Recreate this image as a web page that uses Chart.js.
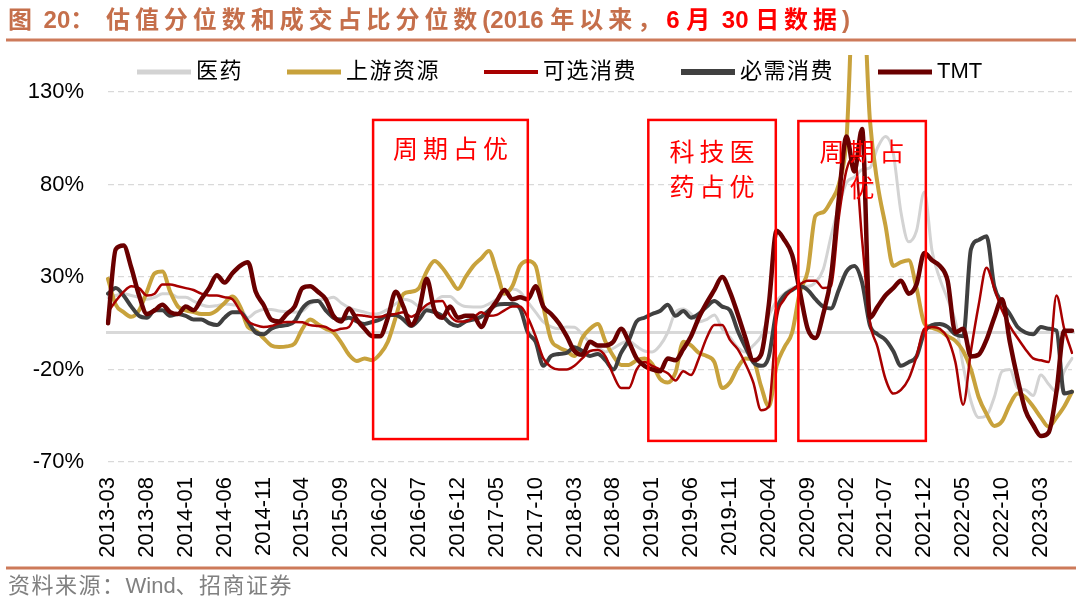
<!DOCTYPE html>
<html><head><meta charset="utf-8">
<script src="https://cdn.jsdelivr.net/npm/chart.js@4.4.0/dist/chart.umd.min.js"></script>
<style>html,body{margin:0;padding:0;background:#fff;}canvas{display:block;}</style>
</head><body>
<canvas id="c" width="1080" height="602"></canvas>
<script>
const months = [
'2013-03','2013-04','2013-05','2013-06','2013-07','2013-08','2013-09','2013-10','2013-11','2013-12',
'2014-01','2014-02','2014-03','2014-04','2014-05','2014-06','2014-07','2014-08','2014-09','2014-10','2014-11','2014-12',
'2015-01','2015-02','2015-03','2015-04','2015-05','2015-06','2015-07','2015-08','2015-09','2015-10','2015-11','2015-12',
'2016-01','2016-02','2016-03','2016-04','2016-05','2016-06','2016-07','2016-08','2016-09','2016-10','2016-11','2016-12',
'2017-01','2017-02','2017-03','2017-04','2017-05','2017-06','2017-07','2017-08','2017-09','2017-10','2017-11','2017-12',
'2018-01','2018-02','2018-03','2018-04','2018-05','2018-06','2018-07','2018-08','2018-09','2018-10','2018-11','2018-12',
'2019-01','2019-02','2019-03','2019-04','2019-05','2019-06','2019-07','2019-08','2019-09','2019-10','2019-11','2019-12',
'2020-01','2020-02','2020-03','2020-04','2020-05','2020-06','2020-07','2020-08','2020-09','2020-10','2020-11','2020-12',
'2021-01','2021-02','2021-03','2021-04','2021-05','2021-06','2021-07','2021-08','2021-09','2021-10','2021-11','2021-12',
'2022-01','2022-02','2022-03','2022-04','2022-05','2022-06','2022-07','2022-08','2022-09','2022-10','2022-11','2022-12',
'2023-01','2023-02','2023-03','2023-04','2023-05','2023-06','2023-07'];

const xTickLabels = ['2013-03','2013-08','2014-01','2014-06','2014-11','2015-04','2015-09','2016-02','2016-07','2016-12',
'2017-05','2017-10','2018-03','2018-08','2019-01','2019-06','2019-11','2020-04','2020-09','2021-02','2021-07','2021-12',
'2022-05','2022-10','2023-03'];
const yTicks = [-70, -20, 30, 80, 130];

const seriesNames = ['医药', '上游资源', '可选消费', '必需消费', 'TMT'];

const yiyao = [19,20,21,20,19,18,19,21,21,19, 19,17,15,14,14.5,15.4,15,13.8,8,11, 12.5,12.5,11.6,11.3,11,11.6,15.5,17.5,18,19,
16,13.5,12,11,10,10.5,12.5,15.5,18,17, 14,13.5,16.5,19.5,19.5,16,14,13.8,13.8,15.5, 18,21,23.5,22,16.5,11,5.7,3,2,3,
2.8,-1,-5.5,-8,-10.5,-8.5,-6,-4.6,-7.5,-10, -10.5,-7,0,11,12.7,10,5.7,7,9.5,2, -2.6,-8,-10.5,-7,-2,9,17,21,24,25,
25,27,34,52,68,81,84,88,89,100, 106,97,65,49,55,76,44,29,18,6, -18,-37,-46,-45,-35,-21,-20,-30,-31,-34, -23,-28,-32,-21,-14];

const shangyou = [29,15,11,8.5,12,22,32,33,22,14, 12,11,10,10,12,16,19.5,14,3,1, -3,-7,-7.8,-7.5,-6,2,7,4.5,2,0,
-5.5,-12,-15.4,-14,-15,-11.6,-5,8,20.8,22, 24,33,38.6,35,29,23.5,30,36,40,44, 33,21,25,36,38.6,36,14,-4,-8,-10,
-12.7,-3,2,4.6,-5,-12.7,-17.5,-17.5,-15,-14, -17,-25,-27,-21.6,-5,-7,-11,-12.7,-16,-30, -27,-19,-14,-15,-29,-40,-18,-8,0,22,
33,63,65,71,80,105,190,190,115,80, 58,36,38,39,24,5,2.5,1,-2,-4.5, -10,-20,-35,-44,-50.5,-48,-39,-33,-35,-40, -46,-51,-46,-40,-32];

const kexuan = [11,17,22,25,24,20,21,26,26,25, 24,23,21,20,20,19,18,11.6,6,4, 3,3.5,5,5.7,5.7,5.5,4,3.5,3,1,
2,3,9.5,9,8.4,8.5,9.5,10,11,8.5, 11,15,16.8,17,9,6,6,8,11,9, 9.5,12,14,14,8,-2,-14,-18.6,-20,-20,
-18,-14,-10,-9.5,-13,-23,-30,-30,-20,-16, -18,-20,-22,-26,-21,-23,-14,-3,4,4, -4,-9,-17,-27,-42,-40,7,18,23,26,
28,28,24,25,62,88,95,50,6,-8, -25,-33,-31,-25,-13,2,3,2,-3,-16, -39,-10,15,35,24,12,3.5,-3,-9,-14, -15,-16,20,2,-11];

const bixu = [21,24,20,14,9,8,12,12,9,10, 9,7,7,5,4,8,11,11,6,0, -1,2,3.5,4,6,13,16.5,17,12,8,
7,8,6,4.6,5.7,7,9.5,9.5,7,3.5, 7,12,11,9,5,3.5,6,7,8.5,12, 15,15.4,15.4,13,0,-5,-18,-12.7,-11.6,-11,
-8,-10,-12.7,-11.6,-15,-20,-11,-4,6,8, 10,11.6,15,9,11.6,8,10,14,17,14, 12,1,-8,-16,-18,-13,12,20,23,25,
23,18,14,13,23,33,36,27,4,-1, -4,-10,-18,-16,-13,0,4,4.6,3,-1, -2,45,50,52,25,16,10,3,0,-1, 3,2,1,-33,-32];

const tmt = [5,45,47,35,20,10,12,15,11,10, 14,12,18,24,31,27,32,36,38,22, 15,7,6,10,14,24,25,22,18,9,
6,13,7,2,-2,-2,8,22,14,4, 12,29,12,8,14,8,9,9,3,11, 17,23,18,19,18,25,14,10,5,-2,
-10,-12,-5,-7,-7,-5,2,-5,-14,-18, -20,-21,-14,-15,-9,-2,8,16,23,30, 22,10,-3,-15,-12,15,55,50,42,22,
2,-3,10,30,72,106,87,110,8,14, 20,24,28,21,26,43,39,36,28,0, 2,-13,-12,-4,8,18,-5,-25,-42,-50, -56,-54,-32,1,1];

const seriesColors = ['#D3D3D3', '#C8A23C', '#A80000', '#404040', '#6A0000'];
const seriesWidths = [3, 4, 2.5, 4, 4.5];
const legendWidths = [5, 5, 4, 6, 5];
const seriesOrder = [5, 4, 2, 3, 1];

// annotation boxes in data units (category index, percent)
const boxes = [
  {x0: 34.1, x1: 54.0, y0: 114.9, y1: -57.6, lines: [{t: '周期占优', dy: 29}]},
  {x0: 69.5, x1: 85.9, y0: 114.9, y1: -58.6, lines: [{t: '科技医', dy: 32}, {t: '药占优', dy: 67}]},
  {x0: 88.8, x1: 105.2, y0: 114.3, y1: -58.6, lines: [{t: '周期占', dy: 30}, {t: '优', dy: 66}]}
];

const FONT = '"Liberation Sans", "Noto Sans CJK SC", sans-serif';
const isWide = ch => ch.charCodeAt(0) > 0x2E80;

function drawSpaced(ctx, text, x, y, sp, wideOnly) {
  for (const ch of text) {
    ctx.fillText(ch, x, y);
    x += ctx.measureText(ch).width + ((!wideOnly || isWide(ch)) ? sp : 0);
  }
  return x;
}
function spacedWidth(ctx, text, sp) {
  let w = 0; for (const ch of text) w += ctx.measureText(ch).width + sp; return w - sp;
}

const deco = {
  id: 'deco',
  beforeDatasetsDraw(chart) {
    const {ctx, chartArea: a, scales: {y}} = chart;
    const y0 = y.getPixelForValue(0);
    ctx.save();
    ctx.strokeStyle = '#D9D9D9'; ctx.lineWidth = 3;
    ctx.beginPath(); ctx.moveTo(a.left - 2, y0); ctx.lineTo(a.right + 3, y0); ctx.stroke();
    ctx.restore();
  },
  afterDraw(chart) {
    const {ctx, scales: {x, y}} = chart;
    ctx.save();
    // annotation boxes
    boxes.forEach(b => {
      const l = x.getPixelForValue(b.x0), r = x.getPixelForValue(b.x1);
      const t = y.getPixelForValue(b.y0), bt = y.getPixelForValue(b.y1);
      ctx.strokeStyle = '#FF0000'; ctx.lineWidth = 2.5;
      ctx.strokeRect(l, t, r - l, bt - t);
      ctx.fillStyle = '#FF0000';
      ctx.font = '25px "Noto Sans CJK SC", sans-serif';
      ctx.textBaseline = 'middle'; ctx.textAlign = 'left';
      const cx = (l + r) / 2;
      b.lines.forEach(ln => {
        const w = spacedWidth(ctx, ln.t, 5);
        drawSpaced(ctx, ln.t, cx - w / 2, t + ln.dy, 5, false);
      });
    });
    // legend
    ctx.font = '22px ' + FONT;
    ctx.textBaseline = 'middle'; ctx.textAlign = 'left';
    let lx = 137; const ly = 72;
    chart.data.datasets.forEach((ds, i) => {
      ctx.strokeStyle = ds.borderColor; ctx.lineWidth = legendWidths[i];
      ctx.beginPath(); ctx.moveTo(lx, ly); ctx.lineTo(lx + 54, ly); ctx.stroke();
      ctx.fillStyle = '#000';
      const end = drawSpaced(ctx, ds.label, lx + 59, ly, 1.5, true);
      lx = end + 44;
    });
    // title
    const brown = '#C56F4B';
    const segs = [{t: '图 20： 估值分位数和成交占比分位数(2016 年以来，', c: brown}, {t: '6 月 30 日数据', c: '#FF0000'}, {t: ')', c: brown}];
    ctx.font = 'bold 24px ' + FONT;
    let nat = 0, nw = 0;
    segs.forEach(s => { for (const ch of s.t) { nat += ctx.measureText(ch).width; if (isWide(ch)) nw++; } });
    const sp = Math.max(0, (842 - nat) / nw);
    let tx = 8;
    segs.forEach(s => { ctx.fillStyle = s.c; tx = drawSpaced(ctx, s.t, tx, 21, sp, true); });
    // rules
    ctx.strokeStyle = '#CD7A5A'; ctx.lineWidth = 3;
    ctx.beginPath(); ctx.moveTo(6, 40); ctx.lineTo(1076, 40); ctx.stroke();
    ctx.beginPath(); ctx.moveTo(6, 568); ctx.lineTo(1076, 568); ctx.stroke();
    // footer
    ctx.fillStyle = '#808080';
    ctx.font = '22px ' + FONT;
    drawSpaced(ctx, '资料来源：Wind、招商证券', 8, 587, 1.5, true);
    ctx.restore();
  }
};

const allSeries = [yiyao, shangyou, kexuan, bixu, tmt];
new Chart(document.getElementById('c'), {
  type: 'line',
  data: {
    labels: months,
    datasets: allSeries.map((d, i) => ({
      label: seriesNames[i], data: d,
      borderColor: seriesColors[i], backgroundColor: seriesColors[i],
      borderWidth: seriesWidths[i], pointRadius: 0, fill: false,
      cubicInterpolationMode: 'monotone', order: seriesOrder[i],
      borderJoinStyle: 'round', borderCapStyle: 'round'
    }))
  },
  options: {
    responsive: false, animation: false, events: [],
    layout: {padding: {left: 8, right: 8, top: 55, bottom: 0}},
    plugins: {legend: {display: false}, tooltip: {enabled: false}},
    scales: {
      x: {
        type: 'category', offset: false,
        grid: {display: false, drawTicks: false},
        border: {display: false},
        afterBuildTicks: s => { s.ticks = s.ticks.filter(t => xTickLabels.includes(months[t.value])); },
        afterFit: s => { s.height = 140; s.paddingLeft = 0; s.paddingRight = 0; },
        ticks: {autoSkip: false, maxRotation: 90, minRotation: 90, padding: 15, color: '#000',
                font: {family: FONT, size: 22}}
      },
      y: {
        min: -70, max: 150,
        afterBuildTicks: s => { s.ticks = yTicks.map(v => ({value: v})); },
        afterFit: s => { s.width = 100; },
        grid: {color: '#D9D9D9', lineWidth: 1.3, drawTicks: false},
        border: {display: false, dash: [6, 4]},
        ticks: {padding: 24, color: '#000', font: {family: FONT, size: 22}, callback: v => v + '%'}
      }
    }
  },
  plugins: [deco]
});
</script>
</body></html>
